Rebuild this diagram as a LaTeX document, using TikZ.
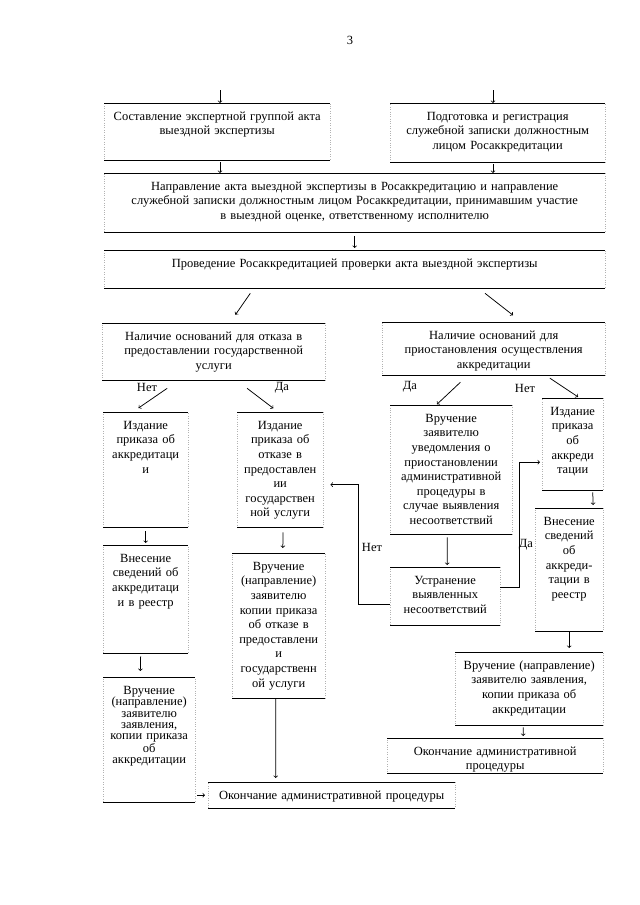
\documentclass[tikz,border=0pt]{standalone}
\usepackage{fontspec}
\setmainfont{Liberation Serif}
\usetikzlibrary{calc}
\usetikzlibrary{positioning}

\begin{document}
\begin{tikzpicture}[x=1bp,y=-1bp,
    font=\fontsize{12.5bp}{14.6bp}\selectfont,
    blk/.style={draw=black!30, dotted, anchor=north west, align=center,
      inner xsep=2bp, inner ysep=0bp, text height=17bp},
    box/.style 2 args={blk, text width=#1bp, text depth=#2bp},
    rule/.style={line width=0.7bp, black},
    arr/.style={->, line width=0.75bp},
    lbl/.style={inner sep=1bp}]
    \useasboundingbox (0,0) rectangle (640,905);
    \node (pagenum) at (350,40) {3};
    % boxes
    \node[box={222}{40}] (sost) at (104,103) {Составление экспертной группой акта\\выездной экспертизы};
    \node[box={211}{42}] (podg) at (390,103) {Подготовка и регистрация\\служебной записки должностным\\лицом Росаккредитации};
    \node[box={497}{42}] (napr) at (104,173) {Направление акта выездной экспертизы в Росаккредитацию и направление\\служебной записки должностным лицом Росаккредитации, принимавшим участие\\в выездной оценке, ответственному исполнителю};
    \node[box={497}{21}] (prov) at (104,250) {Проведение Росаккредитацией проверки акта выездной экспертизы};
    \node[box={219}{40}] (otkaz) at (102,323) {Наличие оснований для отказа в\\предоставлении государственной\\услуги};
    \node[box={219}{36}] (priost) at (382,322) {Наличие оснований для\\приостановления осуществления\\аккредитации};
    \node[box={81}{98}] (izdA) at (103,412) {Издание\\приказа об\\аккредитаци\\и};
    \node[box={82}{98}] (izdO) at (237,412) {Издание\\приказа об\\отказе в\\предоставлен\\ии\\государствен\\ной услуги};
    \node[box={81}{91}] (vnesA) at (103,545) {Внесение\\сведений об\\аккредитаци\\и в реестр};
    \node[box={89}{128}] (vruchO) at (232,553) {Вручение\\(направление)\\заявителю\\копии приказа\\об отказе в\\предоставлени\\и\\государственн\\ой услуги};
    \node[box={88}{108}, font=\fontsize{12.5bp}{11.4bp}\selectfont] (vruchA) at (103,677) {Вручение\\(направление)\\заявителю\\заявления,\\копии приказа\\об\\аккредитации};
    \node[box={243}{9}] (konecA) at (208,782) {Окончание административной процедуры};
    \node[box={118}{112}] (uved) at (390,405) {Вручение\\заявителю\\уведомления о\\приостановлении\\административной\\процедуры в\\случае выявления\\несоответствий};
    \node[box={106}{41}] (ustr) at (390,567) {Устранение\\выявленных\\несоответствий};
    \node[box={57}{75}] (izdB) at (542,398) {Издание\\приказа\\об\\аккреди\\тации};
    \node[box={64}{106}] (vnesB) at (535,508) {Внесение\\сведений\\об\\аккреди-\\тации в\\реестр};
    \node[box={144}{56}] (vruchB) at (455,652) {Вручение (направление)\\заявителю заявления,\\копии приказа об\\аккредитации};
    \node[box={212}{18}] (konecB) at (387,738) {Окончание административной\\процедуры};
    \foreach \b in {sost,podg,napr,prov,otkaz,priost,izdA,izdO,vnesA,vruchO,vruchA,konecA,uved,ustr,izdB,vnesB,vruchB,konecB}
        \draw[rule] (\b.north west) -- (\b.north east) (\b.south west) -- (\b.south east);
    % arrows
    \coordinate (inA) at (220,90);
    \coordinate (inB) at (493,90);
    \draw[arr] (inA) -- (inA |- sost.north);
    \draw[arr] (inB) -- (inB |- podg.north);
    \draw[arr, shorten <=2bp] (sost.south -| inA) -- (napr.north -| inA);
    \draw[arr, shorten <=2bp] (podg.south -| inB) -- (napr.north -| inB);
    \draw[arr, shorten <=4bp, shorten >=2bp] (napr.south) -- (prov.north);
    \draw[arr, shorten <=6bp, shorten >=10bp] ($(prov.south)+(-101,0)$) -- ($(otkaz.north)+(16,0)$);
    \draw[arr, shorten <=8bp, shorten >=11bp] ($(prov.south)+(124,0)$) -- ($(priost.north)+(28,0)$);
    \draw[arr, shorten <=14bp, shorten >=7bp] ($(otkaz.south)+(-35,0)$) -- ($(izdA.north)+(-13,0)$);
    \draw[arr, shorten <=13bp, shorten >=6bp] ($(otkaz.south)+(23,0)$) -- ($(izdO.north)+(-2,0)$);
    \draw[arr, shorten <=10bp, shorten >=1bp] ($(priost.south)+(-26,0)$) -- ($(uved.north)+(-15,0)$);
    \draw[arr, shorten <=5bp, shorten >=2bp] ($(priost.south)+(52,0)$) -- ($(izdB.north)+(7,0)$);
    \draw[arr, shorten <=4bp, shorten >=2bp] (izdA.south) -- (vnesA.north);
    \draw[arr, shorten <=5bp, shorten >=5bp] ($(izdO.south)+(3,0)$) -- ($(vruchO.north)+(4,0)$);
    \draw[arr, shorten <=3bp, shorten >=6bp] ($(vnesA.south)+(-5,0)$) -- ($(vruchA.north)+(-9,0)$);
    \draw[arr, shorten >=4bp] ($(vruchO.south)+(-3,0)$) -- ($(konecA.north)+(-56,0)$);
    \draw[arr, shorten <=2bp, shorten >=3bp] (vruchA.east |- konecA.west) -- (konecA.west);
    \draw[arr, shorten <=3bp, shorten >=2bp] ($(uved.south)+(-4,0)$) -- ($(ustr.north)+(2,0)$);
    \draw[arr, shorten >=7bp] ([yshift=-8bp]ustr.west) -- ++(-32bp,0) |- ([yshift=-15bp]izdO.east);
    \draw[arr, shorten >=2bp] ([yshift=9bp]ustr.east) -- ++(19bp,0) |- ([yshift=-18bp]izdB.west);
    \draw[arr, shorten <=2bp, shorten >=3bp] ($(izdB.south)+(20,0)$) -- ($(vnesB.north)+(24,0)$);
    \draw[arr, shorten >=4bp] (vnesB.south) -- (vnesB.south |- vruchB.north);
    \draw[arr, shorten <=2bp, shorten >=2bp] ($(vruchB.south)+(-6,0)$) -- ($(konecB.north)+(28,0)$);
    % labels
    \node[lbl] (netA) at (147,387) {Нет};
    \node[lbl] (daA) at (282,388) {Да};
    \node[lbl] (daB) at (410,387) {Да};
    \node[lbl] (netB) at (525,388) {Нет};
    \node[lbl] (netC) at (372,547) {Нет};
    \node[lbl] (daC) at (526,545) {Да};
\end{tikzpicture}
\end{document}
